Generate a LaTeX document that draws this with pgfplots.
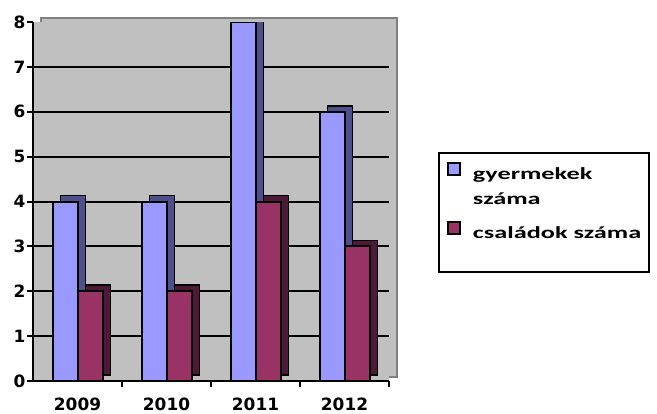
\documentclass[border=0pt]{standalone}
\usepackage{fontspec}
\setmainfont{DejaVu Sans}
\newfontfamily\legfont{Carlito}
\usepackage{graphicx}
\usepackage{pgfplots}
\pgfplotsset{compat=1.18}

\definecolor{kek}{HTML}{9999FF}
\definecolor{kekoldal}{HTML}{4F4F8C}
\definecolor{bordo}{HTML}{993366}
\definecolor{bordooldal}{HTML}{4C1A36}
\definecolor{fal}{HTML}{C0C0C0}
\definecolor{falszel}{HTML}{808080}

% a jelmagyarazat betui szelesek
\newcommand{\nyujt}[1]{\hspace*{12bp}\scalebox{1.55}[1]{#1}}

\pgfplotsset{
    negyzet/.style={legend image code/.code={%
        \draw[##1, line width=2bp] (0bp,5bp) rectangle (12bp,17bp);}},
}

\begin{document}
\begin{tikzpicture}
\useasboundingbox (0,0) rectangle (657bp,414bp);
\begin{axis}[
    at={(33bp,33bp)}, anchor=south west,
    scale only axis,
    width=356bp, height=359bp,
    xmin=-0.5, xmax=3.5,
    ymin=0, ymax=8,
    axis lines=left,
    axis line style={-, black, line width=2bp},
    axis background/.style={fill=fal,
        preaction={fill=fal, draw=falszel, line width=1.5bp,
            transform canvas={xshift=8bp, yshift=4bp}}},
    tick style={black, line width=2bp},
    tick align=outside,
    major tick length=6bp,
    % a kategoriak kozotti osztasok
    xtick={0.5,1.5,2.5,3.5},
    xticklabels={},
    extra x ticks={0,1,2,3},
    extra x tick labels={2009,2010,2011,2012},
    extra x tick style={major tick length=0pt},
    ytick={0,...,8},
    extra y ticks={1,...,7},
    extra y tick labels={},
    extra y tick style={grid=major},
    major grid style={black, line width=2bp},
    /pgf/number format/assume math mode=true,
    tick label style={font=\fontsize{17}{20}\selectfont\bfseries},
    yticklabel style={inner sep=1.5bp},
    xticklabel style={inner sep=2bp, yshift=-15bp},
    legend style={at={(1.1376,0.638)}, anchor=north west,
        draw=black, line width=2bp, fill=white,
        inner xsep=8bp, inner ysep=9bp,
        row sep=0pt,
        font=\fontsize{17}{25}\legfont\bfseries,
        nodes={inner sep=0pt, text depth=},
        cells={anchor=base west, inner sep=0pt, text depth=}},
]
% hatso (3D) lapok
\addplot[ybar, bar width=25bp, bar shift=-12.5bp, fill=kekoldal, draw=black,
    line width=1.6bp, xshift=8bp, yshift=6bp, forget plot]
    coordinates {(0,4) (1,4) (2,8) (3,6)};
\addplot[ybar, bar width=25bp, bar shift=12.5bp, fill=bordooldal, draw=black,
    line width=1.6bp, xshift=8bp, yshift=6bp, forget plot]
    coordinates {(0,2) (1,2) (2,4) (3,3)};
% elso lapok
\addplot[ybar, bar width=25bp, bar shift=-12.5bp, fill=kek, draw=black,
    line width=2bp, negyzet]
    coordinates {(0,4) (1,4) (2,8) (3,6)};
\addlegendentry{\rule[-7bp]{0pt}{25bp}\nyujt{gyermekek}}
\addlegendimage{empty legend}
\addlegendentry{\rule[-7bp]{0pt}{25bp}\nyujt{száma}}
\addplot[ybar, bar width=25bp, bar shift=12.5bp, fill=bordo, draw=black,
    line width=2bp, negyzet]
    coordinates {(0,2) (1,2) (2,4) (3,3)};
\addlegendentry{\rule[-24bp]{0pt}{51bp}\nyujt{családok száma}}
\end{axis}
\end{tikzpicture}
\end{document}
